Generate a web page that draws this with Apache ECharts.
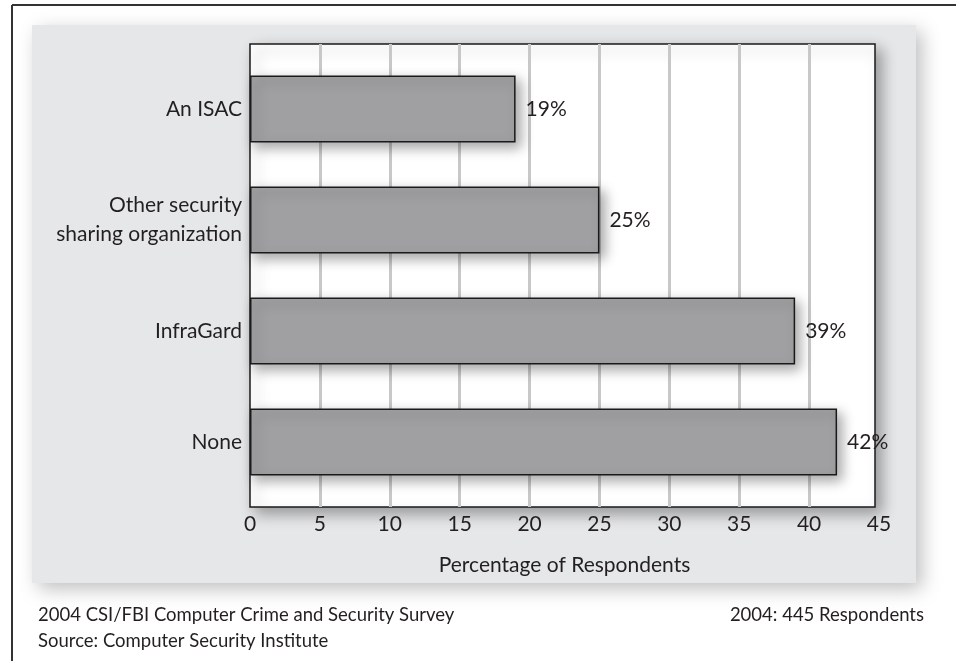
<!DOCTYPE html>
<html><head><meta charset="utf-8">
<script src="https://cdn.jsdelivr.net/npm/echarts@6/dist/echarts.min.js"></script>
<style>html,body{margin:0;padding:0;background:#fff}#c{width:956px;height:661px}</style>
</head><body><div id="c"></div>
<script>
const categories = ['An ISAC', 'Other security\nsharing organization', 'InfraGard', 'None'];
const values = [19, 25, 39, 42];
const xTicks = [0, 5, 10, 15, 20, 25, 30, 35, 40, 45];
const axisTitle = 'Percentage of Respondents';
const noteLeft1 = '2004 CSI/FBI Computer Crime and Security Survey';
const noteLeft2 = 'Source: Computer Security Institute';
const noteRight = '2004: 445 Respondents';

const FONT = 'Lato, "Open Sans", sans-serif';
const TXT = '#231f20';
const XMIN = xTicks[0], XMAX = xTicks[xTicks.length - 1];
const chart = echarts.init(document.getElementById('c'), null, {renderer: 'canvas'});
chart.setOption({
  animation: false,
  backgroundColor: '#fff',
  textStyle: {fontFamily: FONT, color: TXT},
  graphic: [
    {type: 'line', z: -10, shape: {x1: 12, y1: 5, x2: 956, y2: 5}, style: {stroke: '#333', lineWidth: 2}},
    {type: 'line', z: -10, shape: {x1: 12, y1: 5, x2: 12, y2: 661}, style: {stroke: '#333', lineWidth: 2}},
    {type: 'rect', z: -5, shape: {x: 32, y: 25, width: 884, height: 558},
      style: {fill: '#e6e7e8', shadowBlur: 18, shadowColor: 'rgba(0,0,0,0.25)', shadowOffsetX: 6, shadowOffsetY: 6}},
    {type: 'text', z: 10, left: 38, top: 602, style: {text: noteLeft1 + '\n' + noteLeft2, font: '18.5px ' + FONT, fill: TXT, lineHeight: 26}},
    {type: 'text', z: 10, right: 32, top: 602, style: {text: noteRight, font: '18.5px ' + FONT, fill: TXT, lineHeight: 26}}
  ],
  grid: [
    {left: 250, top: 44, width: 625, height: 463, show: true, backgroundColor: '#fff', borderColor: '#1a1a1a', borderWidth: 1.5,
      shadowBlur: 14, shadowColor: 'rgba(0,0,0,0.35)', shadowOffsetX: 6, shadowOffsetY: 6},
    {left: 250, top: 44, width: 629, height: 463},
    {left: 250, top: 53.5, width: 629, height: 444}
  ],
  xAxis: [
    {gridIndex: 0, type: 'value', min: XMIN, max: XMAX, show: false},
    {gridIndex: 1, type: 'value', min: XMIN, max: XMAX, interval: 5,
      axisLine: {show: false}, axisTick: {show: false},
      axisLabel: {fontSize: 21, color: TXT, margin: 7, fontFamily: FONT},
      splitLine: {show: true, showMinLine: false, showMaxLine: false, lineStyle: {color: '#c8c8c8', width: 3}},
      name: axisTitle, nameLocation: 'middle', nameGap: 48, nameTextStyle: {fontSize: 21, color: TXT, fontFamily: FONT}},
    {gridIndex: 2, type: 'value', min: XMIN, max: XMAX, show: false}
  ],
  yAxis: [
    {gridIndex: 0, type: 'value', show: false},
    {gridIndex: 1, type: 'value', show: false},
    {gridIndex: 2, type: 'category', data: categories, inverse: true,
      axisLine: {show: false}, axisTick: {show: false}, splitLine: {show: false},
      axisLabel: {fontSize: 21, color: TXT, margin: 8, lineHeight: 29, align: 'right', fontFamily: FONT}}
  ],
  series: [{
    type: 'bar', xAxisIndex: 2, yAxisIndex: 2, data: values, barWidth: 67,
    itemStyle: {color: '#a0a0a3', borderColor: '#1a1a1a', borderWidth: 1.5,
      shadowBlur: 12, shadowColor: 'rgba(0,0,0,0.35)', shadowOffsetX: 5, shadowOffsetY: 5},
    label: {show: true, position: 'right', distance: 10, formatter: '{c}%', fontSize: 21, color: TXT, fontFamily: FONT}
  }]
});
</script></body></html>
